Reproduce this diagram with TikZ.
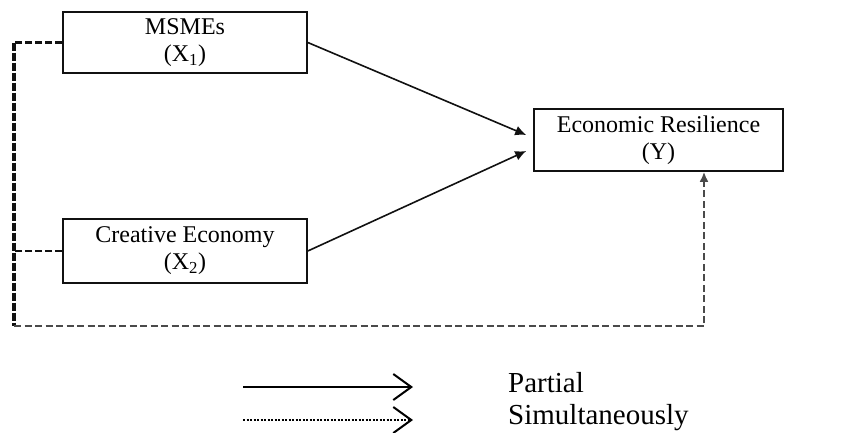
\documentclass[tikz,border=0pt]{standalone}
\usepackage{fontspec}
\setmainfont{Liberation Serif}
\usepackage{xcolor}
\definecolor{lineDark}{HTML}{111111}
\definecolor{simGray}{HTML}{4A4A4A}
\usetikzlibrary{positioning,calc,arrows.meta}
\tikzset{
  varBox/.style={
    rectangle,
    draw=lineDark,
    line width=1.6pt,
    minimum width=244pt,
    minimum height=61pt,
    inner sep=0pt,
    align=center,
    font=\fontsize{24}{27}\selectfont
 },
  partialLine/.style={
    -{Latex[length=11pt,width=10pt]},
    line width=1.6pt,
    color=lineDark
 },
  spineLine/.style={
    line width=3.5pt,
    dash pattern=on 8pt off 2pt,
    color=lineDark
 },
  branchLine/.style={
    line width=2.6pt,
    dash pattern=on 7pt off 3pt,
    color=lineDark
 },
  simulLine/.style={
    -{Latex[length=10pt,width=9pt]},
    line width=2.2pt,
    dash pattern=on 7pt off 3.5pt,
    color=simGray
 },
  legendLine/.style={
    -{Straight Barb[length=18pt,width=26pt,line width=2pt]},
    line width=2pt,
    color=black
 },
  legendText/.style={
    anchor=west,
    inner sep=0pt,
    font=\fontsize{29}{34}\selectfont
 }
}

\begin{document}
\begin{tikzpicture}[x=1pt,y=-1pt]
  \useasboundingbox (0,0) rectangle (861,432);

  % Independent variables
  \node[varBox] (msme) at (185,42.5) {MSMEs\\(X\textsubscript{1})};
  \node[varBox, minimum height=64pt] (creative) at (185,251) {Creative Economy\\(X\textsubscript{2})};

  % Dependent variable
  \node[varBox, minimum width=249pt, minimum height=62pt] (res) at (658.5,140) {Economic Resilience\\(Y)};

  % Partial effects
  \draw[partialLine] (msme.east) -- ($(res.west)+(-7,-5)$);
  \draw[partialLine] (creative.east) -- ($(res.west)+(-7,11)$);

  % Simultaneous effect
  \coordinate (cornerTop) at (14,42.5);
  \coordinate (cornerBot) at (14,326);
  \coordinate (resFoot) at ($(res.south)+(45.5,0)$);
  \draw[branchLine] (msme.west) -- (cornerTop);
  \draw[branchLine] (creative.west) -- (creative.west -| cornerTop);
  \draw[spineLine] (cornerTop) -- (cornerBot);
  \draw[simulLine] (cornerBot) -| (resFoot);

  % Legend
  \node[legendText] (partialLbl) at (508,383) {Partial};
  \node[legendText] (simulLbl) at (508,418) {Simultaneously};
  \coordinate (partialA) at (243,387);
  \coordinate (partialB) at (413,387);
  \coordinate (simulA) at (243,420);
  \coordinate (simulB) at (413,420);
  \draw[legendLine] (partialA) -- (partialB);
  \draw[legendLine, dash pattern=on 2pt off 1.5pt] (simulA) -- (simulB);

\end{tikzpicture}
\end{document}
